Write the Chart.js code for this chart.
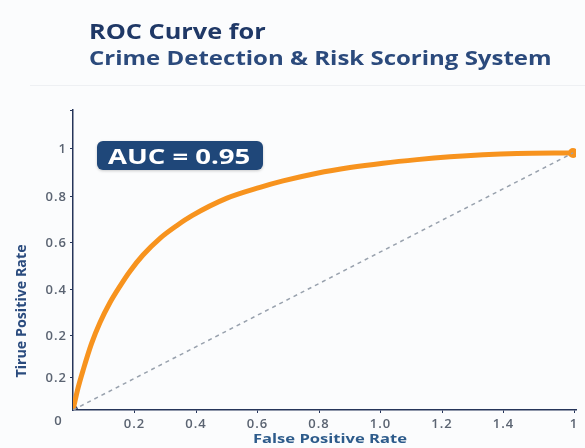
<!DOCTYPE html>
<html>
<head>
<meta charset="utf-8">
<script src="https://cdn.jsdelivr.net/npm/chart.js@4.4.1/dist/chart.umd.min.js"></script>
<style>
    html, body { margin: 0; padding: 0; background: #fbfcfd; }
    #wrap { position: relative; width: 585px; height: 448px; font-family: "Open Sans", sans-serif; }
    .stretch { position: absolute; white-space: nowrap; transform-origin: left top; }
    #title { left: 89px; top: 15px; font-size: 22px; font-weight: 700; color: #1f3866; transform: scaleX(1.15); }
    #subtitle { left: 89px; top: 44px; font-size: 20px; font-weight: 700; color: #2b4a7c; transform: scaleX(1.2); }
    #rule { position: absolute; left: 30px; right: 0; top: 85px; border-top: 1px solid #eef0f3; }
    #auc { position: absolute; left: 97px; top: 141px; width: 166px; height: 29px; line-height: 29px;
           background: #1f4779; border-radius: 6px; box-shadow: 0 1px 3px rgba(0,0,0,0.2); }
    #auc span { position: absolute; left: 11px; top: 0; color: #fff; font-size: 22px; font-weight: 700;
                white-space: nowrap; transform: scaleX(1.25); transform-origin: left center; }
    canvas { position: absolute; left: 0; top: 0; }
</style>
</head>
<body>
<div id="wrap">
    <canvas id="roc" width="585" height="448"></canvas>
    <div id="title" class="stretch">ROC Curve for</div>
    <div id="subtitle" class="stretch">Crime Detection &amp; Risk Scoring System</div>
    <div id="rule"></div>
    <div id="auc"><span>AUC = 0.95</span></div>
</div>
<script>
// ROC curve points
const fprValues = [0, 0.01, 0.021, 0.037, 0.054, 0.074, 0.094, 0.114, 0.14, 0.174, 0.208, 0.238, 0.308, 0.374, 0.42, 0.488, 0.554, 0.62, 0.688, 0.754, 0.82, 0.888, 1];
const tprValues = [0, 0.085, 0.16, 0.258, 0.34, 0.418, 0.482, 0.54, 0.603, 0.668, 0.718, 0.756, 0.824, 0.866, 0.891, 0.921, 0.943, 0.96, 0.974, 0.985, 0.993, 0.998, 1];

// chance line
const chanceX = [0, 1];
const chanceY = [0, 1];

// axis ticks as they appear in the picture
const xTickValues = [0.123, 0.246, 0.369, 0.492, 0.615, 0.738, 0.861, 1.002];
const xTickLabels = ['0.2', '0.4', '0.6', '0.8', '1.0', '1.2', '1.4', '1'];
const yTickValues = [0.125, 0.288, 0.467, 0.65, 0.829, 1.016, 1.167];
const yTickLabels = ['0.2', '0.2', '0.4', '0.6', '0.8', '1', ''];

const navy = '#26355a';
const orange = '#f7931e';
const tickGrey = '#5b6472';

const toPoints = (xs, ys) => xs.map((x, i) => ({ x: x, y: ys[i] }));

// wider tick text, origin label and the two axis titles
const extraText = {
    id: 'extraText',
    beforeDraw(chart) {
        chart.ctx.letterSpacing = '1px';
    },
    afterDraw(chart) {
        const ctx = chart.ctx;
        ctx.save();
        ctx.letterSpacing = '0px';
        ctx.textAlign = 'center';
        ctx.textBaseline = 'middle';

        ctx.fillStyle = tickGrey;
        ctx.font = '600 13px "Open Sans"';
        ctx.fillText('0', 58, 421);

        // x title, stretched like the picture
        ctx.save();
        ctx.translate(330, 440);
        ctx.scale(1.38, 1);
        ctx.fillStyle = '#2d5b8b';
        ctx.font = 'bold 12px "Open Sans"';
        ctx.fillText('False Positive Rate', 0, 0);
        ctx.restore();

        // y title, condensed
        ctx.save();
        ctx.translate(22, 311);
        ctx.rotate(-Math.PI / 2);
        ctx.scale(0.95, 1);
        ctx.fillStyle = '#2a4b7e';
        ctx.font = 'bold 15px "Open Sans"';
        ctx.fillText('Tirue Positive Rate', 0, 0);
        ctx.restore();

        ctx.restore();
    }
};

new Chart(document.getElementById('roc'), {
    type: 'line',
    data: {
        datasets: [
            {
                label: 'Chance',
                data: toPoints(chanceX, chanceY),
                borderColor: '#98a1ad',
                borderWidth: 1.5,
                borderDash: [4, 4],
                pointRadius: 0
            },
            {
                label: 'ROC',
                data: toPoints(fprValues, tprValues),
                borderColor: orange,
                borderWidth: 5,
                cubicInterpolationMode: 'monotone',
                pointRadius: 0,
                borderCapStyle: 'round'
            },
            {
                label: 'End',
                data: [{ x: fprValues[fprValues.length - 1], y: tprValues[tprValues.length - 1] }],
                showLine: false,
                pointRadius: 5,
                pointBackgroundColor: orange,
                pointBorderWidth: 0
            },
            {
                label: 'Origin',
                data: [{ x: fprValues[0], y: tprValues[0] }],
                showLine: false,
                pointRadius: 5,
                pointBackgroundColor: '#1c2b55',
                pointBorderWidth: 0
            }
        ]
    },
    options: {
        responsive: false,
        animation: false,
        layout: { padding: { top: 110, right: 9, left: 0, bottom: 0 } },
        plugins: {
            legend: { display: false },
            tooltip: { enabled: false }
        },
        scales: {
            x: {
                type: 'linear',
                min: 0,
                max: 1.006,
                afterBuildTicks: scale => { scale.ticks = xTickValues.map(v => ({ value: v })); },
                afterFit: scale => { scale.height = 38; },
                ticks: {
                    autoSkip: false,
                    maxRotation: 0,
                    padding: 3,
                    color: tickGrey,
                    font: { family: 'Open Sans', size: 13, weight: '600' },
                    callback: (value, index) => xTickLabels[index]
                },
                grid: { drawOnChartArea: false, tickLength: 3, color: navy },
                border: { color: navy, width: 1.5 }
            },
            y: {
                type: 'linear',
                min: 0,
                max: 1.167,
                afterBuildTicks: scale => { scale.ticks = yTickValues.map(v => ({ value: v })); },
                afterFit: scale => { scale.width = 73; },
                ticks: {
                    autoSkip: false,
                    padding: 3,
                    color: tickGrey,
                    font: { family: 'Open Sans', size: 13, weight: '600' },
                    callback: (value, index) => yTickLabels[index]
                },
                grid: { drawOnChartArea: false, tickLength: 3, color: navy },
                border: { color: navy, width: 1.5 }
            }
        }
    },
    plugins: [extraText]
});
</script>
</body>
</html>
